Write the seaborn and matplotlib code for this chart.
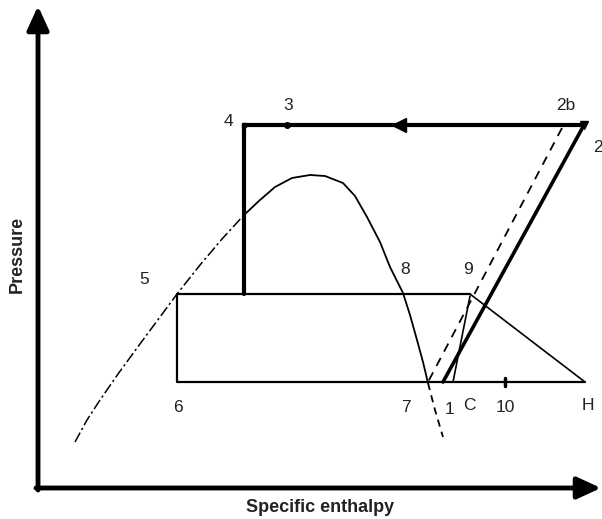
import matplotlib
matplotlib.use("Agg")
import matplotlib.pyplot as plt
import seaborn as sns

# Saturation dome: liquid side (dash-dot) and vapour side (solid), enthalpy vs pressure
dome_liq_h = [75, 87, 100, 118, 137, 157, 177, 200, 222, 244]
dome_liq_p = [77, 99, 119, 145, 171, 198, 225, 254, 280, 304]
dome_top_h = [244, 260, 275, 292, 310, 325, 343, 355, 367, 380, 390, 403, 410, 417, 423, 428]
dome_top_p = [304, 319, 332, 341, 344, 343, 336, 323, 302, 277, 252, 226, 204, 179, 157, 136]
dome_tail_h = [428, 435, 443]
dome_tail_p = [136, 109, 82]

# Pressure levels of the cycle
p_high, p_mid, p_low = 394, 225, 137

# State points (enthalpy)
h4, h3, h2b, h2 = 244, 287, 562, 584
h5, h9 = 177, 470
h7, h1, hC, h10, hH = 428, 443, 453, 505, 585

sns.set_theme(style="white")
plt.rcParams["font.family"] = ["Liberation Sans", "DejaVu Sans"]

fig = plt.figure(figsize=(6.02, 5.19), dpi=100)
ax = fig.add_axes([0, 0, 1, 1])
ax.set_xlim(0, 602)
ax.set_ylim(0, 519)
ax.axis("off")

def seg(h, p, lw=1.3, **kw):
    sns.lineplot(x=h, y=p, sort=False, estimator=None, color="black",
                 linewidth=lw, ax=ax, legend=False, **kw)

# saturation curve
seg(dome_liq_h, dome_liq_p, lw=1.1, linestyle=(0, (7, 2, 1.5, 2)))
seg(dome_top_h, dome_top_p, lw=1.3)
seg(dome_tail_h, dome_tail_p, lw=1.3, linestyle=(0, (4, 3)))

# condenser line 2 -> 4 and throttling 4 -> intermediate level
seg([h2, h4], [p_high, p_high], lw=3)
seg([h4, h4], [p_high, p_mid], lw=3)

# intermediate level and low level with the rectangle
seg([h5, h9], [p_mid, p_mid], lw=1.6)
seg([h5, h5, hH], [p_mid, p_low, p_low], lw=1.6)
seg([h9, hH], [p_mid, p_low], lw=1.2)

# compression lines
seg([h2, h1], [p_high, p_low], lw=2.6)
seg([h2b, h7], [p_high - 3, p_low], lw=1.3, linestyle=(0, (5, 4)))
seg([h9, hC], [p_mid - 2, p_low], lw=1.2)

# markers: flow arrow, point dots, tick at 10
ax.plot([399], [p_high], marker="<", markersize=10, color="black")
ax.plot([h3], [p_high], marker="o", markersize=4, color="black")
ax.plot([h4], [p_high], marker="s", markersize=3, color="black")
ax.plot([h2], [p_high], marker="v", markersize=6, color="black")
ax.plot([h10, h10], [p_low - 4, p_low + 4], color="black", lw=2.5)

# axes with arrow heads
head = "-|>,head_length=1.2,head_width=0.55"
ax.annotate("", xy=(601, 31), xytext=(36, 31),
            arrowprops=dict(arrowstyle=head, lw=3.5, color="black",
                            shrinkA=0, shrinkB=0))
ax.annotate("", xy=(38, 513), xytext=(38, 29),
            arrowprops=dict(arrowstyle=head, lw=3.5, color="black",
                            shrinkA=0, shrinkB=0))

fs = 12.5
labels = [
    ("4", 228, 398), ("3", 288, 413), ("2b", 566, 413), ("2", 598, 372),
    ("5", 144, 240), ("8", 405, 249), ("9", 468, 249),
    ("6", 178, 111), ("7", 406, 111), ("1", 450, 110), ("C", 469, 113),
    ("10", 505, 111), ("H", 588, 113),
]
for text, hx, py in labels:
    ax.text(hx, py, text, fontsize=fs, ha="center", va="center", color="#222222")

ax.text(320, 11, "Specific enthalpy", fontsize=13, fontweight="bold",
        ha="center", va="center", color="#222222")
ax.text(17, 265, "Pressure", fontsize=13, fontweight="bold", rotation=90,
        ha="center", va="center", color="#222222")

fig.savefig("out.png", dpi=100)
